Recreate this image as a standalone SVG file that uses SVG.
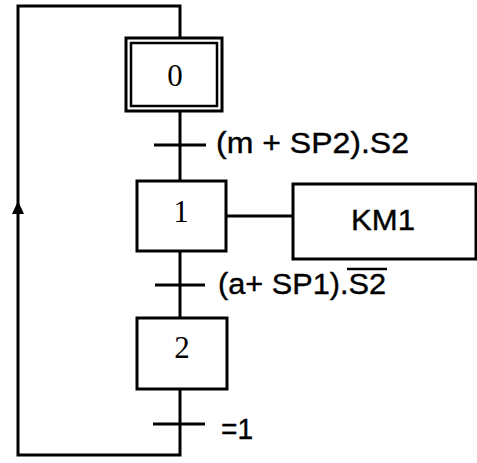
<svg xmlns="http://www.w3.org/2000/svg" width="477" height="463" viewBox="0 0 477 463">
<style>
.ln{stroke:#000;stroke-width:3;fill:none}
.box{stroke:#000;stroke-width:3;fill:#fff}
.num{font-family:"Liberation Serif",serif;font-size:31px;text-anchor:middle;fill:#000}
.lbl{font-family:"Liberation Sans",Arial,sans-serif;font-size:30px;fill:#000;stroke:#000;stroke-width:0.4}
</style>
<rect width="477" height="463" fill="#fff"/>
<g id="connectors">
<polyline class="ln" points="180,38 180,6 18,6 18,455 180,455 180,389"/>
<line class="ln" x1="180" y1="111" x2="180" y2="181"/>
<line class="ln" x1="180" y1="251" x2="180" y2="318"/>
<line class="ln" x1="226" y1="216" x2="293" y2="216"/>
<polygon points="18,201 12,214 24,214" fill="#000"/>
</g>
<g id="t1"><line class="ln" x1="154" y1="145" x2="206" y2="145"/><text class="lbl" x="216" y="153" textLength="193" lengthAdjust="spacingAndGlyphs">(m + SP2).S2</text></g>
<g id="t2"><line class="ln" x1="155" y1="285" x2="205" y2="285"/><text class="lbl" x="218" y="294" textLength="168" lengthAdjust="spacingAndGlyphs">(a+ SP1).S2</text><line x1="347" y1="269" x2="387" y2="269" stroke="#000" stroke-width="2.5"/></g>
<g id="t3"><line class="ln" x1="153" y1="424" x2="205" y2="424"/><text class="lbl" x="221" y="439" textLength="32" lengthAdjust="spacingAndGlyphs">=1</text></g>
<g id="step0"><rect class="box" x="126" y="38" width="96" height="73"/><rect x="131" y="43" width="86" height="63" fill="none" stroke="#000" stroke-width="2.5"/><text class="num" x="175" y="86">0</text></g>
<g id="step1"><rect class="box" x="137" y="181" width="89" height="70"/><text class="num" x="181" y="222">1</text></g>
<g id="step2"><rect class="box" x="137" y="318" width="90" height="71"/><text class="num" x="182" y="358">2</text></g>
<g id="km1"><rect class="box" x="293" y="184" width="183" height="75"/><text class="lbl" x="351" y="230" textLength="64" lengthAdjust="spacingAndGlyphs">KM1</text></g>
</svg>
